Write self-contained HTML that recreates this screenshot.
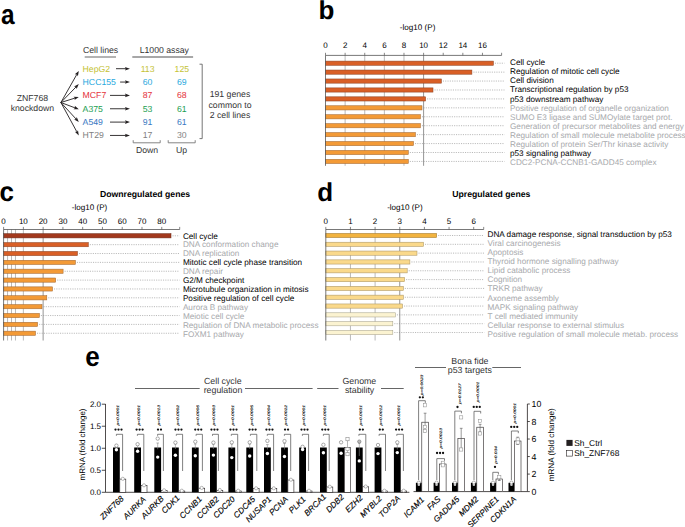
<!DOCTYPE html>
<html><head><meta charset="utf-8"><title>Figure</title>
<style>
html,body{margin:0;padding:0;background:#fff;width:685px;height:527px;overflow:hidden}
svg{display:block}
text{font-family:"Liberation Sans",sans-serif;text-rendering:geometricPrecision}
</style></head><body>
<svg width="685" height="527" viewBox="0 0 685 527">
<text x="0.00" y="0.00" font-size="26" font-weight="bold" transform="translate(1.1 23.8) scale(0.94 1.07)">a</text>
<text x="82.90" y="53.10" font-size="8.7" fill="#333">Cell lines</text>
<line x1="84.70" y1="57.00" x2="116.00" y2="57.00" stroke="#8a8a8a" stroke-width="1.3"/>
<text x="139.70" y="53.10" font-size="8.7" fill="#333">L1000 assay</text>
<line x1="132.30" y1="57.00" x2="193.10" y2="57.00" stroke="#8a8a8a" stroke-width="1.3"/>
<text x="82.60" y="71.70" font-size="8.7" fill="#c4c235">HepG2</text>
<text x="147.60" y="71.70" font-size="8.7" text-anchor="middle" fill="#c4c235">113</text>
<text x="181.80" y="71.70" font-size="8.7" text-anchor="middle" fill="#c4c235">125</text>
<line x1="116.00" y1="68.70" x2="126.00" y2="68.70" stroke="#231f20" stroke-width="0.9"/>
<path d="M130.0,68.70 L124.9,66.90 L125.9,68.70 L124.9,70.50 Z" stroke="none" fill="#231f20" stroke-width="0.8"/>
<line x1="60.90" y1="102.50" x2="76.83" y2="74.38" stroke="#231f20" stroke-width="0.9"/>
<path d="M78.80,70.90 L77.90,76.14 L76.83,74.38 L74.77,74.36 Z" stroke="none" fill="#231f20" stroke-width="0.8"/>
<text x="82.60" y="85.05" font-size="8.7" fill="#28a8de">HCC155</text>
<text x="147.60" y="85.05" font-size="8.7" text-anchor="middle" fill="#28a8de">60</text>
<text x="181.80" y="85.05" font-size="8.7" text-anchor="middle" fill="#28a8de">69</text>
<line x1="120.10" y1="82.05" x2="126.00" y2="82.05" stroke="#231f20" stroke-width="0.9"/>
<path d="M130.0,82.05 L124.9,80.25 L125.9,82.05 L124.9,83.85 Z" stroke="none" fill="#231f20" stroke-width="0.8"/>
<line x1="60.90" y1="102.50" x2="76.01" y2="86.97" stroke="#231f20" stroke-width="0.9"/>
<path d="M78.80,84.10 L76.60,88.94 L76.01,86.97 L74.02,86.43 Z" stroke="none" fill="#231f20" stroke-width="0.8"/>
<text x="82.60" y="98.40" font-size="8.7" fill="#e4323b">MCF7</text>
<text x="147.60" y="98.40" font-size="8.7" text-anchor="middle" fill="#e4323b">87</text>
<text x="181.80" y="98.40" font-size="8.7" text-anchor="middle" fill="#e4323b">68</text>
<line x1="110.00" y1="95.40" x2="126.00" y2="95.40" stroke="#231f20" stroke-width="0.9"/>
<path d="M130.0,95.40 L124.9,93.60 L125.9,95.40 L124.9,97.20 Z" stroke="none" fill="#231f20" stroke-width="0.8"/>
<line x1="60.90" y1="102.50" x2="74.98" y2="98.09" stroke="#231f20" stroke-width="0.9"/>
<path d="M78.80,96.90 L74.57,100.11 L74.98,98.09 L73.49,96.67 Z" stroke="none" fill="#231f20" stroke-width="0.8"/>
<text x="82.60" y="111.75" font-size="8.7" fill="#1a9e50">A375</text>
<text x="147.60" y="111.75" font-size="8.7" text-anchor="middle" fill="#1a9e50">53</text>
<text x="181.80" y="111.75" font-size="8.7" text-anchor="middle" fill="#1a9e50">61</text>
<line x1="110.00" y1="108.75" x2="126.00" y2="108.75" stroke="#231f20" stroke-width="0.9"/>
<path d="M130.0,108.75 L124.9,106.95 L125.9,108.75 L124.9,110.55 Z" stroke="none" fill="#231f20" stroke-width="0.8"/>
<line x1="60.90" y1="102.50" x2="75.06" y2="107.88" stroke="#231f20" stroke-width="0.9"/>
<path d="M78.80,109.30 L73.49,109.21 L75.06,107.88 L74.77,105.84 Z" stroke="none" fill="#231f20" stroke-width="0.8"/>
<text x="82.60" y="125.10" font-size="8.7" fill="#3a78c2">A549</text>
<text x="147.60" y="125.10" font-size="8.7" text-anchor="middle" fill="#3a78c2">91</text>
<text x="181.80" y="125.10" font-size="8.7" text-anchor="middle" fill="#3a78c2">61</text>
<line x1="110.00" y1="122.10" x2="126.00" y2="122.10" stroke="#231f20" stroke-width="0.9"/>
<path d="M130.0,122.10 L124.9,120.30 L125.9,122.10 L124.9,123.90 Z" stroke="none" fill="#231f20" stroke-width="0.8"/>
<line x1="60.90" y1="102.50" x2="76.10" y2="119.05" stroke="#231f20" stroke-width="0.9"/>
<path d="M78.80,122.00 L74.09,119.53 L76.10,119.05 L76.74,117.10 Z" stroke="none" fill="#231f20" stroke-width="0.8"/>
<text x="82.60" y="138.45" font-size="8.7" fill="#7f7f7f">HT29</text>
<text x="147.60" y="138.45" font-size="8.7" text-anchor="middle" fill="#7f7f7f">17</text>
<text x="181.80" y="138.45" font-size="8.7" text-anchor="middle" fill="#7f7f7f">30</text>
<line x1="110.00" y1="135.45" x2="126.00" y2="135.45" stroke="#231f20" stroke-width="0.9"/>
<path d="M130.0,135.45 L124.9,133.65 L125.9,135.45 L124.9,137.25 Z" stroke="none" fill="#231f20" stroke-width="0.8"/>
<line x1="60.90" y1="102.50" x2="76.89" y2="131.89" stroke="#231f20" stroke-width="0.9"/>
<path d="M78.80,135.40 L74.83,131.87 L76.89,131.89 L77.99,130.15 Z" stroke="none" fill="#231f20" stroke-width="0.8"/>
<text x="32.40" y="101.00" font-size="8.7" text-anchor="middle" fill="#333">ZNF768</text>
<text x="32.40" y="111.30" font-size="8.7" text-anchor="middle" fill="#333">knockdown</text>
<path d="M199.5,64.2 H202.2 V138.6 H199.5" stroke="#666" fill="none" stroke-width="0.9"/>
<text x="230.00" y="97.40" font-size="8.7" text-anchor="middle" fill="#333">191 genes</text>
<text x="230.00" y="108.00" font-size="8.7" text-anchor="middle" fill="#333">common to</text>
<text x="230.00" y="118.40" font-size="8.7" text-anchor="middle" fill="#333">2 cell lines</text>
<path d="M133.2,140.2 V142.8 H160.2 V140.2" stroke="#777" fill="none" stroke-width="0.9"/>
<path d="M168.2,140.2 V142.8 H195.2 V140.2" stroke="#777" fill="none" stroke-width="0.9"/>
<text x="147.00" y="153.20" font-size="8.7" text-anchor="middle" fill="#333">Down</text>
<text x="181.60" y="153.20" font-size="8.7" text-anchor="middle" fill="#333">Up</text>
<text x="318.60" y="18.70" font-size="26" font-weight="bold">b</text>
<text x="417.60" y="30.10" font-size="8.1" text-anchor="middle">-log10 (P)</text>
<text x="325.50" y="48.40" font-size="8.0" text-anchor="middle">0</text>
<text x="345.12" y="48.40" font-size="8.0" text-anchor="middle">2</text>
<text x="364.74" y="48.40" font-size="8.0" text-anchor="middle">4</text>
<text x="384.36" y="48.40" font-size="8.0" text-anchor="middle">6</text>
<text x="403.98" y="48.40" font-size="8.0" text-anchor="middle">8</text>
<text x="423.60" y="48.40" font-size="8.0" text-anchor="middle">10</text>
<text x="443.22" y="48.40" font-size="8.0" text-anchor="middle">12</text>
<text x="462.84" y="48.40" font-size="8.0" text-anchor="middle">14</text>
<text x="482.46" y="48.40" font-size="8.0" text-anchor="middle">16</text>
<line x1="345.12" y1="55.40" x2="345.12" y2="165.80" stroke="#9c9c9c" stroke-width="0.7"/>
<line x1="364.74" y1="55.40" x2="364.74" y2="165.80" stroke="#9c9c9c" stroke-width="0.7"/>
<line x1="384.36" y1="55.40" x2="384.36" y2="165.80" stroke="#9c9c9c" stroke-width="0.7"/>
<line x1="403.98" y1="55.40" x2="403.98" y2="165.80" stroke="#9c9c9c" stroke-width="0.7"/>
<line x1="423.60" y1="55.40" x2="423.60" y2="165.80" stroke="#7a7a7a" stroke-width="0.8"/>
<rect x="325.50" y="61.10" width="167.90" height="4.20" fill="#d95f26" stroke="#8f4526" stroke-width="0.55"/>
<line x1="494.90" y1="63.20" x2="504.50" y2="63.20" stroke="#8a8a8a" stroke-width="0.6" stroke-dasharray="1.1,1.2"/>
<text x="510.00" y="65.10" font-size="8.2">Cell cycle</text>
<rect x="325.50" y="70.03" width="146.40" height="4.20" fill="#d95f26" stroke="#8f4526" stroke-width="0.55"/>
<line x1="473.40" y1="72.13" x2="504.50" y2="72.13" stroke="#8a8a8a" stroke-width="0.6" stroke-dasharray="1.1,1.2"/>
<text x="510.00" y="74.20" font-size="8.2">Regulation of mitotic cell cycle</text>
<rect x="325.50" y="78.96" width="115.90" height="4.20" fill="#d95f26" stroke="#8f4526" stroke-width="0.55"/>
<line x1="442.90" y1="81.06" x2="504.50" y2="81.06" stroke="#8a8a8a" stroke-width="0.6" stroke-dasharray="1.1,1.2"/>
<text x="510.00" y="83.30" font-size="8.2">Cell division</text>
<rect x="325.50" y="87.89" width="107.50" height="4.20" fill="#d95f26" stroke="#8f4526" stroke-width="0.55"/>
<line x1="434.50" y1="89.99" x2="504.50" y2="89.99" stroke="#8a8a8a" stroke-width="0.6" stroke-dasharray="1.1,1.2"/>
<text x="510.00" y="92.40" font-size="8.2">Transcriptional regulation by p53</text>
<rect x="325.50" y="96.82" width="100.10" height="4.20" fill="#d95f26" stroke="#8f4526" stroke-width="0.55"/>
<line x1="427.10" y1="98.92" x2="504.50" y2="98.92" stroke="#8a8a8a" stroke-width="0.6" stroke-dasharray="1.1,1.2"/>
<text x="510.00" y="101.50" font-size="8.2">p53 downstream pathway</text>
<rect x="325.50" y="105.75" width="96.50" height="4.20" fill="#f39a36" stroke="#a56a33" stroke-width="0.55"/>
<line x1="423.50" y1="107.85" x2="504.50" y2="107.85" stroke="#8a8a8a" stroke-width="0.6" stroke-dasharray="1.1,1.2"/>
<text x="510.00" y="110.60" font-size="8.2" fill="#a7a9ac">Positive regulation of organelle organization</text>
<rect x="325.50" y="114.68" width="94.90" height="4.20" fill="#f39a36" stroke="#a56a33" stroke-width="0.55"/>
<line x1="421.90" y1="116.78" x2="504.50" y2="116.78" stroke="#8a8a8a" stroke-width="0.6" stroke-dasharray="1.1,1.2"/>
<text x="510.00" y="119.70" font-size="8.2" fill="#a7a9ac">SUMO E3 ligase and SUMOylate target prot.</text>
<rect x="325.50" y="123.61" width="94.90" height="4.20" fill="#f39a36" stroke="#a56a33" stroke-width="0.55"/>
<line x1="421.90" y1="125.71" x2="504.50" y2="125.71" stroke="#8a8a8a" stroke-width="0.6" stroke-dasharray="1.1,1.2"/>
<text x="510.00" y="128.80" font-size="8.2" fill="#a7a9ac">Generation of precursor metabolites and energy</text>
<rect x="325.50" y="132.54" width="89.90" height="4.20" fill="#f39a36" stroke="#a56a33" stroke-width="0.55"/>
<line x1="416.90" y1="134.64" x2="504.50" y2="134.64" stroke="#8a8a8a" stroke-width="0.6" stroke-dasharray="1.1,1.2"/>
<text x="510.00" y="137.90" font-size="8.2" fill="#a7a9ac">Regulation of small molecule metabolite process</text>
<rect x="325.50" y="141.47" width="88.00" height="4.20" fill="#f39a36" stroke="#a56a33" stroke-width="0.55"/>
<line x1="415.00" y1="143.57" x2="504.50" y2="143.57" stroke="#8a8a8a" stroke-width="0.6" stroke-dasharray="1.1,1.2"/>
<text x="510.00" y="147.00" font-size="8.2" fill="#a7a9ac">Regulation of protein Ser/Thr kinase activity</text>
<rect x="325.50" y="150.40" width="82.80" height="4.20" fill="#f39a36" stroke="#a56a33" stroke-width="0.55"/>
<line x1="409.80" y1="152.50" x2="504.50" y2="152.50" stroke="#8a8a8a" stroke-width="0.6" stroke-dasharray="1.1,1.2"/>
<text x="510.00" y="156.10" font-size="8.2">p53 signaling pathway</text>
<rect x="325.50" y="159.33" width="82.80" height="4.20" fill="#f39a36" stroke="#a56a33" stroke-width="0.55"/>
<line x1="409.80" y1="161.43" x2="504.50" y2="161.43" stroke="#8a8a8a" stroke-width="0.6" stroke-dasharray="1.1,1.2"/>
<text x="510.00" y="165.20" font-size="8.2" fill="#a7a9ac">CDC2-PCNA-CCNB1-GADD45 complex</text>
<line x1="325.50" y1="55.40" x2="501.60" y2="55.40" stroke="#555" stroke-width="0.8"/>
<line x1="325.50" y1="55.40" x2="325.50" y2="165.80" stroke="#555" stroke-width="0.8"/>
<line x1="325.50" y1="52.80" x2="325.50" y2="55.40" stroke="#555" stroke-width="0.7"/>
<line x1="345.12" y1="52.80" x2="345.12" y2="55.40" stroke="#555" stroke-width="0.7"/>
<line x1="364.74" y1="52.80" x2="364.74" y2="55.40" stroke="#555" stroke-width="0.7"/>
<line x1="384.36" y1="52.80" x2="384.36" y2="55.40" stroke="#555" stroke-width="0.7"/>
<line x1="403.98" y1="52.80" x2="403.98" y2="55.40" stroke="#555" stroke-width="0.7"/>
<line x1="423.60" y1="52.80" x2="423.60" y2="55.40" stroke="#555" stroke-width="0.7"/>
<line x1="443.22" y1="52.80" x2="443.22" y2="55.40" stroke="#555" stroke-width="0.7"/>
<line x1="462.84" y1="52.80" x2="462.84" y2="55.40" stroke="#555" stroke-width="0.7"/>
<line x1="482.46" y1="52.80" x2="482.46" y2="55.40" stroke="#555" stroke-width="0.7"/>
<line x1="501.60" y1="52.80" x2="501.60" y2="55.40" stroke="#555" stroke-width="0.7"/>
<text x="0.00" y="0.00" font-size="26" font-weight="bold" transform="translate(-0.5 200.6) scale(1 1.05)">c</text>
<text x="99.90" y="196.80" font-size="8.7" font-weight="bold">Downregulated genes</text>
<text x="89.50" y="210.20" font-size="8.1" text-anchor="middle">-log10 (P)</text>
<text x="3.60" y="223.50" font-size="8.0" text-anchor="middle">0</text>
<text x="23.37" y="223.50" font-size="8.0" text-anchor="middle">10</text>
<text x="43.14" y="223.50" font-size="8.0" text-anchor="middle">20</text>
<text x="62.91" y="223.50" font-size="8.0" text-anchor="middle">30</text>
<text x="82.68" y="223.50" font-size="8.0" text-anchor="middle">40</text>
<text x="102.45" y="223.50" font-size="8.0" text-anchor="middle">50</text>
<text x="122.22" y="223.50" font-size="8.0" text-anchor="middle">60</text>
<text x="141.99" y="223.50" font-size="8.0" text-anchor="middle">70</text>
<text x="161.76" y="223.50" font-size="8.0" text-anchor="middle">80</text>
<line x1="7.55" y1="229.50" x2="7.55" y2="340.50" stroke="#9c9c9c" stroke-width="0.7"/>
<line x1="11.51" y1="229.50" x2="11.51" y2="340.50" stroke="#9c9c9c" stroke-width="0.7"/>
<line x1="15.46" y1="229.50" x2="15.46" y2="340.50" stroke="#9c9c9c" stroke-width="0.7"/>
<line x1="23.37" y1="229.50" x2="23.37" y2="340.50" stroke="#9c9c9c" stroke-width="0.7"/>
<line x1="43.14" y1="229.50" x2="43.14" y2="340.50" stroke="#7a7a7a" stroke-width="0.8"/>
<rect x="3.60" y="233.70" width="167.40" height="4.20" fill="#a2391d" stroke="#6d2a18" stroke-width="0.55"/>
<line x1="172.50" y1="235.80" x2="179.50" y2="235.80" stroke="#8a8a8a" stroke-width="0.6" stroke-dasharray="1.1,1.2"/>
<text x="182.90" y="238.50" font-size="8.2">Cell cycle</text>
<rect x="3.60" y="242.56" width="84.70" height="4.20" fill="#d95f26" stroke="#8f4526" stroke-width="0.55"/>
<line x1="89.80" y1="244.66" x2="179.50" y2="244.66" stroke="#8a8a8a" stroke-width="0.6" stroke-dasharray="1.1,1.2"/>
<text x="182.90" y="247.45" font-size="8.2" fill="#a7a9ac">DNA conformation change</text>
<rect x="3.60" y="251.42" width="73.90" height="4.20" fill="#d95f26" stroke="#8f4526" stroke-width="0.55"/>
<line x1="79.00" y1="253.52" x2="179.50" y2="253.52" stroke="#8a8a8a" stroke-width="0.6" stroke-dasharray="1.1,1.2"/>
<text x="182.90" y="256.40" font-size="8.2" fill="#a7a9ac">DNA replication</text>
<rect x="3.60" y="260.28" width="71.80" height="4.20" fill="#f39a36" stroke="#a56a33" stroke-width="0.55"/>
<line x1="76.90" y1="262.38" x2="179.50" y2="262.38" stroke="#8a8a8a" stroke-width="0.6" stroke-dasharray="1.1,1.2"/>
<text x="182.90" y="265.35" font-size="8.2">Mitotic cell cycle phase transition</text>
<rect x="3.60" y="269.14" width="59.50" height="4.20" fill="#f39a36" stroke="#a56a33" stroke-width="0.55"/>
<line x1="64.60" y1="271.24" x2="179.50" y2="271.24" stroke="#8a8a8a" stroke-width="0.6" stroke-dasharray="1.1,1.2"/>
<text x="182.90" y="274.30" font-size="8.2" fill="#a7a9ac">DNA repair</text>
<rect x="3.60" y="278.00" width="52.10" height="4.20" fill="#f39a36" stroke="#a56a33" stroke-width="0.55"/>
<line x1="57.20" y1="280.10" x2="179.50" y2="280.10" stroke="#8a8a8a" stroke-width="0.6" stroke-dasharray="1.1,1.2"/>
<text x="182.90" y="283.25" font-size="8.2">G2/M checkpoint</text>
<rect x="3.60" y="286.86" width="48.90" height="4.20" fill="#f39a36" stroke="#a56a33" stroke-width="0.55"/>
<line x1="54.00" y1="288.96" x2="179.50" y2="288.96" stroke="#8a8a8a" stroke-width="0.6" stroke-dasharray="1.1,1.2"/>
<text x="182.90" y="292.20" font-size="8.2">Microtubule organization in mitosis</text>
<rect x="3.60" y="295.72" width="43.20" height="4.20" fill="#f39a36" stroke="#a56a33" stroke-width="0.55"/>
<line x1="48.30" y1="297.82" x2="179.50" y2="297.82" stroke="#8a8a8a" stroke-width="0.6" stroke-dasharray="1.1,1.2"/>
<text x="182.90" y="301.15" font-size="8.2">Positive regulation of cell cycle</text>
<rect x="3.60" y="304.58" width="38.40" height="4.20" fill="#f39a36" stroke="#a56a33" stroke-width="0.55"/>
<line x1="43.50" y1="306.68" x2="179.50" y2="306.68" stroke="#8a8a8a" stroke-width="0.6" stroke-dasharray="1.1,1.2"/>
<text x="182.90" y="310.10" font-size="8.2" fill="#a7a9ac">Aurora B pathway</text>
<rect x="3.60" y="313.44" width="35.80" height="4.20" fill="#f39a36" stroke="#a56a33" stroke-width="0.55"/>
<line x1="40.90" y1="315.54" x2="179.50" y2="315.54" stroke="#8a8a8a" stroke-width="0.6" stroke-dasharray="1.1,1.2"/>
<text x="182.90" y="319.05" font-size="8.2" fill="#a7a9ac">Meiotic cell cycle</text>
<rect x="3.60" y="322.30" width="34.00" height="4.20" fill="#f39a36" stroke="#a56a33" stroke-width="0.55"/>
<line x1="39.10" y1="324.40" x2="179.50" y2="324.40" stroke="#8a8a8a" stroke-width="0.6" stroke-dasharray="1.1,1.2"/>
<text x="182.90" y="328.00" font-size="8.2" fill="#a7a9ac">Regulation of DNA metabolic process</text>
<rect x="3.60" y="331.16" width="31.90" height="4.20" fill="#f39a36" stroke="#a56a33" stroke-width="0.55"/>
<line x1="37.00" y1="333.26" x2="179.50" y2="333.26" stroke="#8a8a8a" stroke-width="0.6" stroke-dasharray="1.1,1.2"/>
<text x="182.90" y="336.95" font-size="8.2" fill="#a7a9ac">FOXM1 pathway</text>
<line x1="3.60" y1="229.50" x2="179.70" y2="229.50" stroke="#555" stroke-width="0.8"/>
<line x1="3.60" y1="229.50" x2="3.60" y2="340.50" stroke="#555" stroke-width="0.8"/>
<line x1="3.60" y1="226.90" x2="3.60" y2="229.50" stroke="#555" stroke-width="0.7"/>
<line x1="23.37" y1="226.90" x2="23.37" y2="229.50" stroke="#555" stroke-width="0.7"/>
<line x1="43.14" y1="226.90" x2="43.14" y2="229.50" stroke="#555" stroke-width="0.7"/>
<line x1="62.91" y1="226.90" x2="62.91" y2="229.50" stroke="#555" stroke-width="0.7"/>
<line x1="82.68" y1="226.90" x2="82.68" y2="229.50" stroke="#555" stroke-width="0.7"/>
<line x1="102.45" y1="226.90" x2="102.45" y2="229.50" stroke="#555" stroke-width="0.7"/>
<line x1="122.22" y1="226.90" x2="122.22" y2="229.50" stroke="#555" stroke-width="0.7"/>
<line x1="141.99" y1="226.90" x2="141.99" y2="229.50" stroke="#555" stroke-width="0.7"/>
<line x1="161.76" y1="226.90" x2="161.76" y2="229.50" stroke="#555" stroke-width="0.7"/>
<line x1="179.70" y1="226.90" x2="179.70" y2="229.50" stroke="#555" stroke-width="0.7"/>
<text x="317.30" y="200.50" font-size="26" font-weight="bold">d</text>
<text x="452.20" y="196.80" font-size="8.7" font-weight="bold">Upregulated genes</text>
<text x="404.90" y="210.20" font-size="8.1" text-anchor="middle">-log10 (P)</text>
<text x="325.80" y="223.50" font-size="8.0" text-anchor="middle">0</text>
<text x="350.45" y="223.50" font-size="8.0" text-anchor="middle">1</text>
<text x="375.10" y="223.50" font-size="8.0" text-anchor="middle">2</text>
<text x="399.75" y="223.50" font-size="8.0" text-anchor="middle">3</text>
<text x="424.40" y="223.50" font-size="8.0" text-anchor="middle">4</text>
<text x="449.05" y="223.50" font-size="8.0" text-anchor="middle">5</text>
<text x="473.70" y="223.50" font-size="8.0" text-anchor="middle">6</text>
<line x1="350.45" y1="229.50" x2="350.45" y2="340.50" stroke="#9c9c9c" stroke-width="0.7"/>
<line x1="375.10" y1="229.50" x2="375.10" y2="340.50" stroke="#9c9c9c" stroke-width="0.7"/>
<line x1="399.75" y1="229.50" x2="399.75" y2="340.50" stroke="#7a7a7a" stroke-width="0.8"/>
<rect x="325.80" y="233.40" width="110.90" height="4.20" fill="#f2b33f" stroke="#a07a35" stroke-width="0.55"/>
<line x1="438.20" y1="235.50" x2="484.20" y2="235.50" stroke="#8a8a8a" stroke-width="0.6" stroke-dasharray="1.1,1.2"/>
<text x="487.50" y="237.10" font-size="8.2">DNA damage response, signal transduction by p53</text>
<rect x="325.80" y="242.22" width="97.70" height="4.20" fill="#fad98b" stroke="#ab9462" stroke-width="0.55"/>
<line x1="425.00" y1="244.32" x2="484.20" y2="244.32" stroke="#8a8a8a" stroke-width="0.6" stroke-dasharray="1.1,1.2"/>
<text x="487.50" y="246.16" font-size="8.2" fill="#a7a9ac">Viral carcinogenesis</text>
<rect x="325.80" y="251.04" width="91.20" height="4.20" fill="#fad98b" stroke="#ab9462" stroke-width="0.55"/>
<line x1="418.50" y1="253.14" x2="484.20" y2="253.14" stroke="#8a8a8a" stroke-width="0.6" stroke-dasharray="1.1,1.2"/>
<text x="487.50" y="255.22" font-size="8.2" fill="#a7a9ac">Apoptosis</text>
<rect x="325.80" y="259.86" width="84.10" height="4.20" fill="#fad98b" stroke="#ab9462" stroke-width="0.55"/>
<line x1="411.40" y1="261.96" x2="484.20" y2="261.96" stroke="#8a8a8a" stroke-width="0.6" stroke-dasharray="1.1,1.2"/>
<text x="487.50" y="264.28" font-size="8.2" fill="#a7a9ac">Thyroid hormone signalling pathway</text>
<rect x="325.80" y="268.68" width="81.40" height="4.20" fill="#fad98b" stroke="#ab9462" stroke-width="0.55"/>
<line x1="408.70" y1="270.78" x2="484.20" y2="270.78" stroke="#8a8a8a" stroke-width="0.6" stroke-dasharray="1.1,1.2"/>
<text x="487.50" y="273.34" font-size="8.2" fill="#a7a9ac">Lipid catabolic process</text>
<rect x="325.80" y="277.50" width="78.80" height="4.20" fill="#fad98b" stroke="#ab9462" stroke-width="0.55"/>
<line x1="406.10" y1="279.60" x2="484.20" y2="279.60" stroke="#8a8a8a" stroke-width="0.6" stroke-dasharray="1.1,1.2"/>
<text x="487.50" y="282.40" font-size="8.2" fill="#a7a9ac">Cognition</text>
<rect x="325.80" y="286.32" width="77.50" height="4.20" fill="#fad98b" stroke="#ab9462" stroke-width="0.55"/>
<line x1="404.80" y1="288.42" x2="484.20" y2="288.42" stroke="#8a8a8a" stroke-width="0.6" stroke-dasharray="1.1,1.2"/>
<text x="487.50" y="291.46" font-size="8.2" fill="#a7a9ac">TRKR pathway</text>
<rect x="325.80" y="295.14" width="77.50" height="4.20" fill="#fad98b" stroke="#ab9462" stroke-width="0.55"/>
<line x1="404.80" y1="297.24" x2="484.20" y2="297.24" stroke="#8a8a8a" stroke-width="0.6" stroke-dasharray="1.1,1.2"/>
<text x="487.50" y="300.52" font-size="8.2" fill="#a7a9ac">Axoneme assembly</text>
<rect x="325.80" y="303.96" width="76.70" height="4.20" fill="#fad98b" stroke="#ab9462" stroke-width="0.55"/>
<line x1="404.00" y1="306.06" x2="484.20" y2="306.06" stroke="#8a8a8a" stroke-width="0.6" stroke-dasharray="1.1,1.2"/>
<text x="487.50" y="309.58" font-size="8.2" fill="#a7a9ac">MAPK signaling pathway</text>
<rect x="325.80" y="312.78" width="69.60" height="4.20" fill="#fbf3d1" stroke="#a9a48d" stroke-width="0.55"/>
<line x1="396.90" y1="314.88" x2="484.20" y2="314.88" stroke="#8a8a8a" stroke-width="0.6" stroke-dasharray="1.1,1.2"/>
<text x="487.50" y="318.64" font-size="8.2" fill="#a7a9ac">T cell mediated immunity</text>
<rect x="325.80" y="321.60" width="67.00" height="4.20" fill="#fbf3d1" stroke="#a9a48d" stroke-width="0.55"/>
<line x1="394.30" y1="323.70" x2="484.20" y2="323.70" stroke="#8a8a8a" stroke-width="0.6" stroke-dasharray="1.1,1.2"/>
<text x="487.50" y="327.70" font-size="8.2" fill="#a7a9ac">Cellular response to external stimulus</text>
<rect x="325.80" y="330.42" width="67.00" height="4.20" fill="#fbf3d1" stroke="#a9a48d" stroke-width="0.55"/>
<line x1="394.30" y1="332.52" x2="484.20" y2="332.52" stroke="#8a8a8a" stroke-width="0.6" stroke-dasharray="1.1,1.2"/>
<text x="487.50" y="336.76" font-size="8.2" fill="#a7a9ac">Positive regulation of small molecule metab. process</text>
<line x1="325.80" y1="229.50" x2="483.70" y2="229.50" stroke="#555" stroke-width="0.8"/>
<line x1="325.80" y1="229.50" x2="325.80" y2="340.50" stroke="#555" stroke-width="0.8"/>
<line x1="325.80" y1="226.90" x2="325.80" y2="229.50" stroke="#555" stroke-width="0.7"/>
<line x1="350.45" y1="226.90" x2="350.45" y2="229.50" stroke="#555" stroke-width="0.7"/>
<line x1="375.10" y1="226.90" x2="375.10" y2="229.50" stroke="#555" stroke-width="0.7"/>
<line x1="399.75" y1="226.90" x2="399.75" y2="229.50" stroke="#555" stroke-width="0.7"/>
<line x1="424.40" y1="226.90" x2="424.40" y2="229.50" stroke="#555" stroke-width="0.7"/>
<line x1="449.05" y1="226.90" x2="449.05" y2="229.50" stroke="#555" stroke-width="0.7"/>
<line x1="473.70" y1="226.90" x2="473.70" y2="229.50" stroke="#555" stroke-width="0.7"/>
<line x1="483.70" y1="226.90" x2="483.70" y2="229.50" stroke="#555" stroke-width="0.7"/>
<text x="0.00" y="0.00" font-size="26" font-weight="bold" transform="translate(85.3 365.6) scale(1 1.08)">e</text>
<text x="222.80" y="384.30" font-size="8.8" text-anchor="middle" fill="#333">Cell cycle</text>
<text x="223.00" y="392.70" font-size="8.8" text-anchor="middle" fill="#333">regulation</text>
<line x1="135.00" y1="388.50" x2="199.70" y2="388.50" stroke="#666" stroke-width="1.0"/>
<line x1="245.00" y1="388.50" x2="312.60" y2="388.50" stroke="#666" stroke-width="1.0"/>
<text x="359.40" y="384.00" font-size="8.8" text-anchor="middle" fill="#333">Genome</text>
<text x="359.60" y="392.80" font-size="8.8" text-anchor="middle" fill="#333">stability</text>
<line x1="317.20" y1="388.50" x2="338.50" y2="388.50" stroke="#666" stroke-width="1.0"/>
<line x1="381.00" y1="388.50" x2="403.70" y2="388.50" stroke="#666" stroke-width="1.0"/>
<text x="469.90" y="364.40" font-size="8.8" text-anchor="middle" fill="#333">Bona fide</text>
<text x="469.80" y="372.80" font-size="8.8" text-anchor="middle" fill="#333">p53 targets</text>
<line x1="415.00" y1="367.50" x2="446.00" y2="367.50" stroke="#666" stroke-width="1.0"/>
<line x1="492.30" y1="367.50" x2="521.00" y2="367.50" stroke="#666" stroke-width="1.0"/>
<line x1="105.50" y1="404.00" x2="105.50" y2="492.30" stroke="#231f20" stroke-width="0.8"/>
<line x1="101.80" y1="492.30" x2="105.50" y2="492.30" stroke="#231f20" stroke-width="0.8"/>
<text x="101.00" y="495.20" font-size="8" text-anchor="end">0.0</text>
<line x1="101.80" y1="470.28" x2="105.50" y2="470.28" stroke="#231f20" stroke-width="0.8"/>
<text x="101.00" y="473.18" font-size="8" text-anchor="end">0.5</text>
<line x1="101.80" y1="448.25" x2="105.50" y2="448.25" stroke="#231f20" stroke-width="0.8"/>
<text x="101.00" y="451.15" font-size="8" text-anchor="end">1.0</text>
<line x1="101.80" y1="426.23" x2="105.50" y2="426.23" stroke="#231f20" stroke-width="0.8"/>
<text x="101.00" y="429.12" font-size="8" text-anchor="end">1.5</text>
<line x1="101.80" y1="404.20" x2="105.50" y2="404.20" stroke="#231f20" stroke-width="0.8"/>
<text x="101.00" y="407.10" font-size="8" text-anchor="end">2.0</text>
<text x="84.80" y="444.50" font-size="8" text-anchor="middle" transform="rotate(-90 84.8 444.5)">mRNA (fold change)</text>
<line x1="105.50" y1="492.30" x2="409.40" y2="492.30" stroke="#231f20" stroke-width="0.8"/>
<line x1="527.40" y1="404.00" x2="527.40" y2="491.60" stroke="#231f20" stroke-width="0.8"/>
<line x1="527.40" y1="491.60" x2="529.80" y2="491.60" stroke="#231f20" stroke-width="0.8"/>
<text x="531.60" y="494.70" font-size="8.8">0</text>
<line x1="527.40" y1="474.08" x2="529.80" y2="474.08" stroke="#231f20" stroke-width="0.8"/>
<text x="531.60" y="477.18" font-size="8.8">2</text>
<line x1="527.40" y1="456.56" x2="529.80" y2="456.56" stroke="#231f20" stroke-width="0.8"/>
<text x="531.60" y="459.66" font-size="8.8">4</text>
<line x1="527.40" y1="439.04" x2="529.80" y2="439.04" stroke="#231f20" stroke-width="0.8"/>
<text x="531.60" y="442.14" font-size="8.8">6</text>
<line x1="527.40" y1="421.52" x2="529.80" y2="421.52" stroke="#231f20" stroke-width="0.8"/>
<text x="531.60" y="424.62" font-size="8.8">8</text>
<line x1="527.40" y1="404.00" x2="529.80" y2="404.00" stroke="#231f20" stroke-width="0.8"/>
<text x="531.60" y="407.10" font-size="8.8">10</text>
<text x="554.00" y="444.80" font-size="8.1" text-anchor="middle" transform="rotate(-90 554.0 444.8)">mRNA (fold change)</text>
<line x1="413.50" y1="491.60" x2="527.40" y2="491.60" stroke="#231f20" stroke-width="0.8"/>
<rect x="566.40" y="439.90" width="6.20" height="6.00" fill="#231f20"/>
<text x="574.20" y="446.00" font-size="8.4">Sh_Ctrl</text>
<rect x="566.60" y="450.50" width="5.90" height="5.60" fill="#fff" stroke="#231f20" stroke-width="0.6"/>
<text x="574.20" y="456.00" font-size="8.4">Sh_ZNF768</text>
<rect x="113.00" y="447.50" width="6.80" height="44.80" fill="#000"/>
<rect x="119.80" y="479.10" width="6.00" height="13.20" fill="#fff" stroke="#231f20" stroke-width="0.6"/>
<circle cx="116.40" cy="445.60" r="1.7" fill="#fff" stroke="#666" stroke-width="0.55"/>
<circle cx="116.40" cy="449.80" r="1.7" fill="#fff"/>
<circle cx="122.80" cy="478.80" r="1.6" fill="#fff" stroke="#777" stroke-width="0.5"/>
<path d="M116.40,435.8 V434.3 H122.60 V471.0" stroke="#555" fill="none" stroke-width="0.75"/>
<circle cx="115.50" cy="429.60" r="1.15" fill="#111"/>
<circle cx="118.50" cy="429.60" r="1.15" fill="#111"/>
<circle cx="121.50" cy="429.60" r="1.15" fill="#111"/>
<g transform="translate(119.20,425.6) rotate(-90) scale(1,0.72)"><text x="0" y="0" font-size="4.9" font-style="italic" fill="#000" stroke="#000" stroke-width="0.12">p&lt;0.0001</text></g>
<text x="124.20" y="499.20" font-size="8.2" text-anchor="end" fill="#000" font-style="italic" transform="rotate(-45 124.20 499.20)" stroke="#000" stroke-width="0.15">ZNF768</text>
<rect x="134.20" y="447.50" width="6.80" height="44.80" fill="#000"/>
<rect x="141.00" y="485.60" width="6.00" height="6.70" fill="#fff" stroke="#231f20" stroke-width="0.6"/>
<line x1="137.60" y1="445.50" x2="137.60" y2="449.50" stroke="#888" stroke-width="0.6"/>
<line x1="136.30" y1="445.50" x2="138.90" y2="445.50" stroke="#888" stroke-width="0.6"/>
<circle cx="137.60" cy="444.20" r="1.7" fill="#fff" stroke="#666" stroke-width="0.55"/>
<circle cx="137.60" cy="451.20" r="1.7" fill="#fff"/>
<circle cx="144.00" cy="485.30" r="1.6" fill="#fff" stroke="#777" stroke-width="0.5"/>
<path d="M137.40,435.8 V434.3 H143.80 V471.0" stroke="#555" fill="none" stroke-width="0.75"/>
<circle cx="136.60" cy="429.60" r="1.15" fill="#111"/>
<circle cx="139.60" cy="429.60" r="1.15" fill="#111"/>
<circle cx="142.60" cy="429.60" r="1.15" fill="#111"/>
<g transform="translate(140.30,425.6) rotate(-90) scale(1,0.72)"><text x="0" y="0" font-size="4.9" font-style="italic" fill="#000" stroke="#000" stroke-width="0.12">p&lt;0.0001</text></g>
<text x="146.50" y="499.90" font-size="8.2" text-anchor="end" fill="#000" font-style="italic" transform="rotate(-45 146.50 499.90)" stroke="#000" stroke-width="0.15">AURKA</text>
<rect x="154.30" y="447.50" width="6.80" height="44.80" fill="#000"/>
<rect x="161.10" y="490.60" width="6.00" height="1.70" fill="#fff" stroke="#231f20" stroke-width="0.6"/>
<line x1="157.70" y1="443.00" x2="157.70" y2="449.30" stroke="#888" stroke-width="0.6"/>
<line x1="156.40" y1="443.00" x2="159.00" y2="443.00" stroke="#888" stroke-width="0.6"/>
<circle cx="157.70" cy="438.60" r="1.7" fill="#fff" stroke="#666" stroke-width="0.55"/>
<circle cx="157.70" cy="457.10" r="1.7" fill="#fff"/>
<circle cx="164.10" cy="490.30" r="1.6" fill="#fff" stroke="#777" stroke-width="0.5"/>
<path d="M157.60,435.8 V434.3 H163.40 V471.0" stroke="#555" fill="none" stroke-width="0.75"/>
<circle cx="158.00" cy="429.60" r="1.15" fill="#111"/>
<circle cx="161.00" cy="429.60" r="1.15" fill="#111"/>
<g transform="translate(160.20,425.6) rotate(-90) scale(1,0.72)"><text x="0" y="0" font-size="4.9" font-style="italic" fill="#000" stroke="#000" stroke-width="0.12">p=0.0013</text></g>
<text x="164.50" y="499.20" font-size="8.2" text-anchor="end" fill="#000" font-style="italic" transform="rotate(-45 164.50 499.20)" stroke="#000" stroke-width="0.15">AURKB</text>
<rect x="172.00" y="447.50" width="6.80" height="44.80" fill="#000"/>
<rect x="178.80" y="491.00" width="6.00" height="1.30" fill="#fff" stroke="#231f20" stroke-width="0.6"/>
<line x1="175.40" y1="443.80" x2="175.40" y2="449.00" stroke="#888" stroke-width="0.6"/>
<line x1="174.10" y1="443.80" x2="176.70" y2="443.80" stroke="#888" stroke-width="0.6"/>
<circle cx="175.40" cy="442.60" r="1.7" fill="#fff" stroke="#666" stroke-width="0.55"/>
<circle cx="175.40" cy="455.30" r="1.7" fill="#fff"/>
<circle cx="181.80" cy="490.70" r="1.6" fill="#fff" stroke="#777" stroke-width="0.5"/>
<path d="M176.30,435.8 V434.3 H182.60 V471.0" stroke="#555" fill="none" stroke-width="0.75"/>
<circle cx="175.45" cy="429.60" r="1.15" fill="#111"/>
<circle cx="178.45" cy="429.60" r="1.15" fill="#111"/>
<circle cx="181.45" cy="429.60" r="1.15" fill="#111"/>
<g transform="translate(179.15,425.6) rotate(-90) scale(1,0.72)"><text x="0" y="0" font-size="4.9" font-style="italic" fill="#000" stroke="#000" stroke-width="0.12">p=0.0002</text></g>
<text x="180.30" y="498.50" font-size="8.2" text-anchor="end" fill="#000" font-style="italic" transform="rotate(-45 180.30 498.50)" stroke="#000" stroke-width="0.15">CDK1</text>
<rect x="191.90" y="447.50" width="6.80" height="44.80" fill="#000"/>
<rect x="198.70" y="488.20" width="6.00" height="4.10" fill="#fff" stroke="#231f20" stroke-width="0.6"/>
<line x1="195.30" y1="444.00" x2="195.30" y2="449.00" stroke="#888" stroke-width="0.6"/>
<line x1="194.00" y1="444.00" x2="196.60" y2="444.00" stroke="#888" stroke-width="0.6"/>
<circle cx="195.30" cy="441.70" r="1.7" fill="#fff" stroke="#666" stroke-width="0.55"/>
<circle cx="195.30" cy="455.80" r="1.7" fill="#fff"/>
<circle cx="201.70" cy="487.90" r="1.6" fill="#fff" stroke="#777" stroke-width="0.5"/>
<path d="M196.10,435.8 V434.3 H202.40 V471.0" stroke="#555" fill="none" stroke-width="0.75"/>
<circle cx="195.25" cy="429.60" r="1.15" fill="#111"/>
<circle cx="198.25" cy="429.60" r="1.15" fill="#111"/>
<circle cx="201.25" cy="429.60" r="1.15" fill="#111"/>
<g transform="translate(198.95,425.6) rotate(-90) scale(1,0.72)"><text x="0" y="0" font-size="4.9" font-style="italic" fill="#000" stroke="#000" stroke-width="0.12">p=0.0006</text></g>
<text x="202.50" y="499.60" font-size="8.2" text-anchor="end" fill="#000" font-style="italic" transform="rotate(-45 202.50 499.60)" stroke="#000" stroke-width="0.15">CCNB1</text>
<rect x="210.00" y="447.50" width="6.80" height="44.80" fill="#000"/>
<rect x="216.80" y="490.30" width="6.00" height="2.00" fill="#fff" stroke="#231f20" stroke-width="0.6"/>
<line x1="213.40" y1="444.20" x2="213.40" y2="449.00" stroke="#888" stroke-width="0.6"/>
<line x1="212.10" y1="444.20" x2="214.70" y2="444.20" stroke="#888" stroke-width="0.6"/>
<circle cx="213.40" cy="442.60" r="1.7" fill="#fff" stroke="#666" stroke-width="0.55"/>
<circle cx="213.40" cy="455.10" r="1.7" fill="#fff"/>
<circle cx="219.80" cy="490.00" r="1.6" fill="#fff" stroke="#777" stroke-width="0.5"/>
<path d="M212.50,435.8 V434.3 H218.40 V471.0" stroke="#555" fill="none" stroke-width="0.75"/>
<circle cx="211.45" cy="429.60" r="1.15" fill="#111"/>
<circle cx="214.45" cy="429.60" r="1.15" fill="#111"/>
<circle cx="217.45" cy="429.60" r="1.15" fill="#111"/>
<g transform="translate(215.15,425.6) rotate(-90) scale(1,0.72)"><text x="0" y="0" font-size="4.9" font-style="italic" fill="#000" stroke="#000" stroke-width="0.12">p=0.0003</text></g>
<text x="219.60" y="499.70" font-size="8.2" text-anchor="end" fill="#000" font-style="italic" transform="rotate(-45 219.60 499.70)" stroke="#000" stroke-width="0.15">CCNB2</text>
<rect x="228.40" y="447.50" width="6.80" height="44.80" fill="#000"/>
<rect x="235.20" y="491.00" width="6.00" height="1.30" fill="#fff" stroke="#231f20" stroke-width="0.6"/>
<line x1="231.80" y1="444.00" x2="231.80" y2="449.00" stroke="#888" stroke-width="0.6"/>
<line x1="230.50" y1="444.00" x2="233.10" y2="444.00" stroke="#888" stroke-width="0.6"/>
<circle cx="231.80" cy="442.30" r="1.7" fill="#fff" stroke="#666" stroke-width="0.55"/>
<circle cx="231.80" cy="457.60" r="1.7" fill="#fff"/>
<circle cx="238.20" cy="490.70" r="1.6" fill="#fff" stroke="#777" stroke-width="0.5"/>
<path d="M231.30,435.8 V434.3 H237.70 V471.0" stroke="#555" fill="none" stroke-width="0.75"/>
<circle cx="230.50" cy="429.60" r="1.15" fill="#111"/>
<circle cx="233.50" cy="429.60" r="1.15" fill="#111"/>
<circle cx="236.50" cy="429.60" r="1.15" fill="#111"/>
<g transform="translate(234.20,425.6) rotate(-90) scale(1,0.72)"><text x="0" y="0" font-size="4.9" font-style="italic" fill="#000" stroke="#000" stroke-width="0.12">p=0.0001</text></g>
<text x="235.50" y="499.70" font-size="8.2" text-anchor="end" fill="#000" font-style="italic" transform="rotate(-45 235.50 499.70)" stroke="#000" stroke-width="0.15">CDC20</text>
<rect x="246.30" y="447.50" width="6.80" height="44.80" fill="#000"/>
<rect x="253.10" y="488.60" width="6.00" height="3.70" fill="#fff" stroke="#231f20" stroke-width="0.6"/>
<line x1="249.70" y1="444.00" x2="249.70" y2="449.00" stroke="#888" stroke-width="0.6"/>
<line x1="248.40" y1="444.00" x2="251.00" y2="444.00" stroke="#888" stroke-width="0.6"/>
<circle cx="249.70" cy="442.30" r="1.7" fill="#fff" stroke="#666" stroke-width="0.55"/>
<circle cx="249.70" cy="456.00" r="1.7" fill="#fff"/>
<circle cx="256.10" cy="488.30" r="1.6" fill="#fff" stroke="#777" stroke-width="0.5"/>
<path d="M250.40,435.8 V434.3 H256.80 V471.0" stroke="#555" fill="none" stroke-width="0.75"/>
<circle cx="249.60" cy="429.60" r="1.15" fill="#111"/>
<circle cx="252.60" cy="429.60" r="1.15" fill="#111"/>
<circle cx="255.60" cy="429.60" r="1.15" fill="#111"/>
<g transform="translate(253.30,425.6) rotate(-90) scale(1,0.72)"><text x="0" y="0" font-size="4.9" font-style="italic" fill="#000" stroke="#000" stroke-width="0.12">p=0.0005</text></g>
<text x="255.80" y="499.70" font-size="8.2" text-anchor="end" fill="#000" font-style="italic" transform="rotate(-45 255.80 499.70)" stroke="#000" stroke-width="0.15">CDC45</text>
<rect x="264.00" y="447.50" width="6.80" height="44.80" fill="#000"/>
<rect x="270.80" y="488.60" width="6.00" height="3.70" fill="#fff" stroke="#231f20" stroke-width="0.6"/>
<line x1="267.40" y1="444.60" x2="267.40" y2="449.50" stroke="#888" stroke-width="0.6"/>
<line x1="266.10" y1="444.60" x2="268.70" y2="444.60" stroke="#888" stroke-width="0.6"/>
<circle cx="267.40" cy="440.90" r="1.7" fill="#fff" stroke="#666" stroke-width="0.55"/>
<circle cx="267.40" cy="453.50" r="1.7" fill="#fff"/>
<circle cx="273.80" cy="488.30" r="1.6" fill="#fff" stroke="#777" stroke-width="0.5"/>
<path d="M267.30,435.8 V434.3 H273.60 V471.0" stroke="#555" fill="none" stroke-width="0.75"/>
<circle cx="266.45" cy="429.60" r="1.15" fill="#111"/>
<circle cx="269.45" cy="429.60" r="1.15" fill="#111"/>
<circle cx="272.45" cy="429.60" r="1.15" fill="#111"/>
<g transform="translate(270.15,425.6) rotate(-90) scale(1,0.72)"><text x="0" y="0" font-size="4.9" font-style="italic" fill="#000" stroke="#000" stroke-width="0.12">p=0.0004</text></g>
<text x="272.10" y="499.70" font-size="8.2" text-anchor="end" fill="#000" font-style="italic" transform="rotate(-45 272.10 499.70)" stroke="#000" stroke-width="0.15">NUSAP1</text>
<rect x="281.10" y="447.50" width="6.80" height="44.80" fill="#000"/>
<rect x="287.90" y="480.00" width="6.00" height="12.30" fill="#fff" stroke="#231f20" stroke-width="0.6"/>
<line x1="284.50" y1="443.50" x2="284.50" y2="449.50" stroke="#888" stroke-width="0.6"/>
<line x1="283.20" y1="443.50" x2="285.80" y2="443.50" stroke="#888" stroke-width="0.6"/>
<circle cx="284.50" cy="441.10" r="1.7" fill="#fff" stroke="#666" stroke-width="0.55"/>
<circle cx="284.50" cy="456.50" r="1.7" fill="#fff"/>
<circle cx="290.90" cy="479.70" r="1.6" fill="#fff" stroke="#777" stroke-width="0.5"/>
<path d="M284.40,435.8 V434.3 H290.70 V471.0" stroke="#555" fill="none" stroke-width="0.75"/>
<circle cx="285.05" cy="429.60" r="1.15" fill="#111"/>
<circle cx="288.05" cy="429.60" r="1.15" fill="#111"/>
<g transform="translate(287.25,425.6) rotate(-90) scale(1,0.72)"><text x="0" y="0" font-size="4.9" font-style="italic" fill="#000" stroke="#000" stroke-width="0.12">p=0.0022</text></g>
<text x="288.50" y="499.70" font-size="8.2" text-anchor="end" fill="#000" font-style="italic" transform="rotate(-45 288.50 499.70)" stroke="#000" stroke-width="0.15">PCNA</text>
<rect x="299.20" y="447.50" width="6.80" height="44.80" fill="#000"/>
<rect x="306.00" y="491.00" width="6.00" height="1.30" fill="#fff" stroke="#231f20" stroke-width="0.6"/>
<circle cx="302.60" cy="446.80" r="1.7" fill="#fff" stroke="#666" stroke-width="0.55"/>
<circle cx="302.60" cy="449.50" r="1.7" fill="#fff"/>
<circle cx="309.00" cy="490.70" r="1.6" fill="#fff" stroke="#777" stroke-width="0.5"/>
<path d="M302.40,435.8 V434.3 H308.60 V471.0" stroke="#555" fill="none" stroke-width="0.75"/>
<circle cx="301.50" cy="429.60" r="1.15" fill="#111"/>
<circle cx="304.50" cy="429.60" r="1.15" fill="#111"/>
<circle cx="307.50" cy="429.60" r="1.15" fill="#111"/>
<g transform="translate(305.20,425.6) rotate(-90) scale(1,0.72)"><text x="0" y="0" font-size="4.9" font-style="italic" fill="#000" stroke="#000" stroke-width="0.12">p=0.0001</text></g>
<text x="306.30" y="499.70" font-size="8.2" text-anchor="end" fill="#000" font-style="italic" transform="rotate(-45 306.30 499.70)" stroke="#000" stroke-width="0.15">PLK1</text>
<rect x="320.00" y="447.50" width="6.80" height="44.80" fill="#000"/>
<rect x="326.80" y="487.00" width="6.00" height="5.30" fill="#fff" stroke="#231f20" stroke-width="0.6"/>
<circle cx="323.40" cy="444.80" r="1.7" fill="#fff" stroke="#666" stroke-width="0.55"/>
<circle cx="323.40" cy="452.80" r="1.7" fill="#fff"/>
<circle cx="329.80" cy="486.70" r="1.6" fill="#fff" stroke="#777" stroke-width="0.5"/>
<path d="M323.40,435.8 V434.3 H329.20 V471.0" stroke="#555" fill="none" stroke-width="0.75"/>
<circle cx="322.30" cy="429.60" r="1.15" fill="#111"/>
<circle cx="325.30" cy="429.60" r="1.15" fill="#111"/>
<circle cx="328.30" cy="429.60" r="1.15" fill="#111"/>
<g transform="translate(326.00,425.6) rotate(-90) scale(1,0.72)"><text x="0" y="0" font-size="4.9" font-style="italic" fill="#000" stroke="#000" stroke-width="0.12">p=0.0001</text></g>
<text x="326.80" y="497.20" font-size="8.2" text-anchor="end" fill="#000" font-style="italic" transform="rotate(-45 326.80 497.20)" stroke="#000" stroke-width="0.15">BRCA1</text>
<rect x="337.70" y="447.50" width="6.80" height="44.80" fill="#000"/>
<rect x="344.50" y="447.30" width="6.00" height="45.00" fill="#fff" stroke="#231f20" stroke-width="0.6"/>
<circle cx="341.10" cy="442.30" r="1.7" fill="#fff" stroke="#666" stroke-width="0.55"/>
<circle cx="341.10" cy="453.30" r="1.7" fill="#fff"/>
<line x1="347.50" y1="440.00" x2="347.50" y2="455.00" stroke="#888" stroke-width="0.6"/>
<line x1="346.20" y1="440.00" x2="348.80" y2="440.00" stroke="#888" stroke-width="0.6"/>
<rect x="345.90" y="437.60" width="3.20" height="3.20" fill="#fff" stroke="#777" stroke-width="0.5"/>
<rect x="345.90" y="447.50" width="3.20" height="3.20" fill="#fff" stroke="#777" stroke-width="0.5"/>
<rect x="345.90" y="452.60" width="3.20" height="3.20" fill="#fff" stroke="#777" stroke-width="0.5"/>
<text x="344.60" y="497.60" font-size="8.2" text-anchor="end" fill="#000" font-style="italic" transform="rotate(-45 344.60 497.60)" stroke="#000" stroke-width="0.15">DDB2</text>
<rect x="355.90" y="447.50" width="6.80" height="44.80" fill="#000"/>
<rect x="362.70" y="486.80" width="6.00" height="5.50" fill="#fff" stroke="#231f20" stroke-width="0.6"/>
<line x1="359.30" y1="443.00" x2="359.30" y2="456.00" stroke="#888" stroke-width="0.6"/>
<line x1="358.00" y1="443.00" x2="360.60" y2="443.00" stroke="#888" stroke-width="0.6"/>
<circle cx="359.30" cy="441.60" r="1.7" fill="#bbb" stroke="#666" stroke-width="0.55"/>
<circle cx="359.30" cy="460.90" r="1.7" fill="#fff"/>
<circle cx="365.70" cy="486.50" r="1.6" fill="#fff" stroke="#777" stroke-width="0.5"/>
<path d="M358.90,435.8 V434.3 H365.80 V471.0" stroke="#555" fill="none" stroke-width="0.75"/>
<circle cx="359.85" cy="429.60" r="1.15" fill="#111"/>
<circle cx="362.85" cy="429.60" r="1.15" fill="#111"/>
<g transform="translate(362.05,425.6) rotate(-90) scale(1,0.72)"><text x="0" y="0" font-size="4.9" font-style="italic" fill="#000" stroke="#000" stroke-width="0.12">p=0.0031</text></g>
<text x="363.20" y="498.30" font-size="8.2" text-anchor="end" fill="#000" font-style="italic" transform="rotate(-45 363.20 498.30)" stroke="#000" stroke-width="0.15">EZH2</text>
<rect x="374.60" y="447.50" width="6.80" height="44.80" fill="#000"/>
<rect x="381.40" y="491.00" width="6.00" height="1.30" fill="#fff" stroke="#231f20" stroke-width="0.6"/>
<circle cx="378.00" cy="445.00" r="1.7" fill="#fff" stroke="#666" stroke-width="0.55"/>
<circle cx="378.00" cy="453.60" r="1.7" fill="#fff"/>
<circle cx="384.40" cy="490.70" r="1.6" fill="#fff" stroke="#777" stroke-width="0.5"/>
<path d="M379.10,435.8 V434.3 H385.50 V471.0" stroke="#555" fill="none" stroke-width="0.75"/>
<circle cx="379.80" cy="429.60" r="1.15" fill="#111"/>
<circle cx="382.80" cy="429.60" r="1.15" fill="#111"/>
<g transform="translate(382.00,425.6) rotate(-90) scale(1,0.72)"><text x="0" y="0" font-size="4.9" font-style="italic" fill="#000" stroke="#000" stroke-width="0.12">p=0.0012</text></g>
<text x="382.20" y="499.00" font-size="8.2" text-anchor="end" fill="#000" font-style="italic" transform="rotate(-45 382.20 499.00)" stroke="#000" stroke-width="0.15">MYBL2</text>
<rect x="393.90" y="447.50" width="6.80" height="44.80" fill="#000"/>
<rect x="400.70" y="491.00" width="6.00" height="1.30" fill="#fff" stroke="#231f20" stroke-width="0.6"/>
<line x1="397.30" y1="444.50" x2="397.30" y2="449.50" stroke="#888" stroke-width="0.6"/>
<line x1="396.00" y1="444.50" x2="398.60" y2="444.50" stroke="#888" stroke-width="0.6"/>
<circle cx="397.30" cy="442.30" r="1.7" fill="#fff" stroke="#666" stroke-width="0.55"/>
<circle cx="397.30" cy="452.60" r="1.7" fill="#fff"/>
<circle cx="403.70" cy="490.70" r="1.6" fill="#fff" stroke="#777" stroke-width="0.5"/>
<path d="M396.80,435.8 V434.3 H403.40 V471.0" stroke="#555" fill="none" stroke-width="0.75"/>
<circle cx="396.10" cy="429.60" r="1.15" fill="#111"/>
<circle cx="399.10" cy="429.60" r="1.15" fill="#111"/>
<circle cx="402.10" cy="429.60" r="1.15" fill="#111"/>
<g transform="translate(399.80,425.6) rotate(-90) scale(1,0.72)"><text x="0" y="0" font-size="4.9" font-style="italic" fill="#000" stroke="#000" stroke-width="0.12">p=0.0001</text></g>
<text x="400.80" y="499.00" font-size="8.2" text-anchor="end" fill="#000" font-style="italic" transform="rotate(-45 400.80 499.00)" stroke="#000" stroke-width="0.15">TOP2A</text>
<rect x="415.90" y="482.80" width="5.90" height="8.80" fill="#000"/>
<rect x="421.80" y="422.20" width="6.60" height="69.40" fill="#fff" stroke="#231f20" stroke-width="0.6"/>
<circle cx="418.85" cy="482.60" r="1.6" fill="#fff" stroke="#666" stroke-width="0.5"/>
<circle cx="418.85" cy="484.80" r="1.3" fill="#ccc"/>
<line x1="425.10" y1="413.20" x2="425.10" y2="432.00" stroke="#555" stroke-width="0.6"/>
<line x1="423.70" y1="413.20" x2="426.50" y2="413.20" stroke="#555" stroke-width="0.6"/>
<line x1="423.70" y1="432.00" x2="426.50" y2="432.00" stroke="#555" stroke-width="0.6"/>
<rect x="423.50" y="403.70" width="3.20" height="3.20" fill="#fff" stroke="#888" stroke-width="0.5"/>
<rect x="423.50" y="425.40" width="3.20" height="3.20" fill="#fff" stroke="#888" stroke-width="0.5"/>
<rect x="423.50" y="429.40" width="3.20" height="3.20" fill="#fff" stroke="#888" stroke-width="0.5"/>
<path d="M418.60,480.0 V400.70 H425.30 V402.90" stroke="#555" fill="none" stroke-width="0.75"/>
<circle cx="419.85" cy="397.30" r="1.15" fill="#111"/>
<circle cx="422.85" cy="397.30" r="1.15" fill="#111"/>
<g transform="translate(422.60,395.20) rotate(-90) scale(1,0.72)"><text x="0" y="0" font-size="4.9" font-style="italic" fill="#000" stroke="#000" stroke-width="0.12">p=0.0023</text></g>
<text x="424.80" y="500.30" font-size="8.2" text-anchor="end" fill="#000" font-style="italic" transform="rotate(-45 424.80 500.30)" stroke="#000" stroke-width="0.15">ICAM1</text>
<rect x="433.60" y="482.80" width="5.90" height="8.80" fill="#000"/>
<rect x="439.50" y="464.00" width="6.60" height="27.60" fill="#fff" stroke="#231f20" stroke-width="0.6"/>
<circle cx="436.55" cy="482.60" r="1.6" fill="#fff" stroke="#666" stroke-width="0.5"/>
<circle cx="436.55" cy="484.80" r="1.3" fill="#ccc"/>
<line x1="442.80" y1="462.50" x2="442.80" y2="465.50" stroke="#555" stroke-width="0.6"/>
<line x1="441.40" y1="462.50" x2="444.20" y2="462.50" stroke="#555" stroke-width="0.6"/>
<line x1="441.40" y1="465.50" x2="444.20" y2="465.50" stroke="#555" stroke-width="0.6"/>
<rect x="441.20" y="461.20" width="3.20" height="3.20" fill="#fff" stroke="#888" stroke-width="0.5"/>
<rect x="441.20" y="463.70" width="3.20" height="3.20" fill="#fff" stroke="#888" stroke-width="0.5"/>
<path d="M436.80,480.0 V458.60 H444.50 V460.80" stroke="#555" fill="none" stroke-width="0.75"/>
<circle cx="437.05" cy="453.00" r="1.15" fill="#111"/>
<circle cx="440.05" cy="453.00" r="1.15" fill="#111"/>
<circle cx="443.05" cy="453.00" r="1.15" fill="#111"/>
<g transform="translate(441.60,448.60) rotate(-90) scale(1,0.72)"><text x="0" y="0" font-size="4.9" font-style="italic" fill="#000" stroke="#000" stroke-width="0.12">p=0.0023</text></g>
<text x="441.20" y="499.70" font-size="8.2" text-anchor="end" fill="#000" font-style="italic" transform="rotate(-45 441.20 499.70)" stroke="#000" stroke-width="0.15">FAS</text>
<rect x="452.00" y="482.80" width="5.90" height="8.80" fill="#000"/>
<rect x="457.90" y="438.30" width="6.60" height="53.30" fill="#fff" stroke="#231f20" stroke-width="0.6"/>
<circle cx="454.95" cy="482.60" r="1.6" fill="#fff" stroke="#666" stroke-width="0.5"/>
<circle cx="454.95" cy="484.80" r="1.3" fill="#ccc"/>
<line x1="461.20" y1="428.30" x2="461.20" y2="448.80" stroke="#555" stroke-width="0.6"/>
<line x1="459.80" y1="428.30" x2="462.60" y2="428.30" stroke="#555" stroke-width="0.6"/>
<line x1="459.80" y1="448.80" x2="462.60" y2="448.80" stroke="#555" stroke-width="0.6"/>
<rect x="459.60" y="415.80" width="3.20" height="3.20" fill="#fff" stroke="#888" stroke-width="0.5"/>
<rect x="459.60" y="447.90" width="3.20" height="3.20" fill="#fff" stroke="#888" stroke-width="0.5"/>
<path d="M454.80,480.0 V411.10 H461.40 V413.30" stroke="#555" fill="none" stroke-width="0.75"/>
<circle cx="457.50" cy="407.00" r="1.15" fill="#111"/>
<g transform="translate(461.30,403.90) rotate(-90) scale(1,0.72)"><text x="0" y="0" font-size="4.9" font-style="italic" fill="#000" stroke="#000" stroke-width="0.12">p=0.0127</text></g>
<text x="460.00" y="499.70" font-size="8.2" text-anchor="end" fill="#000" font-style="italic" transform="rotate(-45 460.00 499.70)" stroke="#000" stroke-width="0.15">GADD45</text>
<rect x="470.90" y="482.80" width="5.90" height="8.80" fill="#000"/>
<rect x="476.80" y="427.20" width="6.60" height="64.40" fill="#fff" stroke="#231f20" stroke-width="0.6"/>
<circle cx="473.85" cy="482.60" r="1.6" fill="#fff" stroke="#666" stroke-width="0.5"/>
<circle cx="473.85" cy="484.80" r="1.3" fill="#ccc"/>
<line x1="480.10" y1="424.30" x2="480.10" y2="432.00" stroke="#555" stroke-width="0.6"/>
<line x1="478.70" y1="424.30" x2="481.50" y2="424.30" stroke="#555" stroke-width="0.6"/>
<line x1="478.70" y1="432.00" x2="481.50" y2="432.00" stroke="#555" stroke-width="0.6"/>
<rect x="478.50" y="419.40" width="3.20" height="3.20" fill="#fff" stroke="#888" stroke-width="0.5"/>
<rect x="478.50" y="431.90" width="3.20" height="3.20" fill="#fff" stroke="#888" stroke-width="0.5"/>
<path d="M474.00,480.0 V411.30 H480.70 V413.50" stroke="#555" fill="none" stroke-width="0.75"/>
<circle cx="473.75" cy="406.90" r="1.15" fill="#111"/>
<circle cx="476.75" cy="406.90" r="1.15" fill="#111"/>
<circle cx="479.75" cy="406.90" r="1.15" fill="#111"/>
<g transform="translate(479.20,402.30) rotate(-90) scale(1,0.72)"><text x="0" y="0" font-size="4.9" font-style="italic" fill="#000" stroke="#000" stroke-width="0.12">p=0.0001</text></g>
<text x="479.00" y="499.70" font-size="8.2" text-anchor="end" fill="#000" font-style="italic" transform="rotate(-45 479.00 499.70)" stroke="#000" stroke-width="0.15">MDM2</text>
<rect x="490.10" y="482.80" width="5.90" height="8.80" fill="#000"/>
<rect x="496.00" y="479.00" width="6.60" height="12.60" fill="#fff" stroke="#231f20" stroke-width="0.6"/>
<circle cx="493.05" cy="482.60" r="1.6" fill="#fff" stroke="#666" stroke-width="0.5"/>
<circle cx="493.05" cy="484.80" r="1.3" fill="#ccc"/>
<line x1="499.30" y1="477.00" x2="499.30" y2="480.50" stroke="#555" stroke-width="0.6"/>
<line x1="497.90" y1="477.00" x2="500.70" y2="477.00" stroke="#555" stroke-width="0.6"/>
<line x1="497.90" y1="480.50" x2="500.70" y2="480.50" stroke="#555" stroke-width="0.6"/>
<rect x="497.70" y="475.60" width="3.20" height="3.20" fill="#fff" stroke="#888" stroke-width="0.5"/>
<path d="M492.80,480.0 V472.30 H498.40 V474.50" stroke="#555" fill="none" stroke-width="0.75"/>
<circle cx="495.00" cy="466.90" r="1.15" fill="#111"/>
<g transform="translate(497.30,463.80) rotate(-90) scale(1,0.72)"><text x="0" y="0" font-size="4.9" font-style="italic" fill="#000" stroke="#000" stroke-width="0.12">p=0.034</text></g>
<text x="499.40" y="499.70" font-size="8.2" text-anchor="end" fill="#000" font-style="italic" transform="rotate(-45 499.40 499.70)" stroke="#000" stroke-width="0.15">SERPINE1</text>
<rect x="508.50" y="482.80" width="5.90" height="8.80" fill="#000"/>
<rect x="514.40" y="441.00" width="6.60" height="50.60" fill="#fff" stroke="#231f20" stroke-width="0.6"/>
<circle cx="511.45" cy="482.60" r="1.6" fill="#fff" stroke="#666" stroke-width="0.5"/>
<circle cx="511.45" cy="484.80" r="1.3" fill="#ccc"/>
<line x1="517.70" y1="437.20" x2="517.70" y2="444.50" stroke="#555" stroke-width="0.6"/>
<line x1="516.30" y1="437.20" x2="519.10" y2="437.20" stroke="#555" stroke-width="0.6"/>
<line x1="516.30" y1="444.50" x2="519.10" y2="444.50" stroke="#555" stroke-width="0.6"/>
<rect x="516.10" y="437.90" width="3.20" height="3.20" fill="#fff" stroke="#888" stroke-width="0.5"/>
<rect x="516.10" y="440.90" width="3.20" height="3.20" fill="#fff" stroke="#888" stroke-width="0.5"/>
<path d="M511.40,480.0 V431.00 H518.30 V433.20" stroke="#555" fill="none" stroke-width="0.75"/>
<circle cx="511.25" cy="426.90" r="1.15" fill="#111"/>
<circle cx="514.25" cy="426.90" r="1.15" fill="#111"/>
<circle cx="517.25" cy="426.90" r="1.15" fill="#111"/>
<g transform="translate(516.00,423.50) rotate(-90) scale(1,0.72)"><text x="0" y="0" font-size="4.9" font-style="italic" fill="#000" stroke="#000" stroke-width="0.12">p=0.0001</text></g>
<text x="516.80" y="499.70" font-size="8.2" text-anchor="end" fill="#000" font-style="italic" transform="rotate(-45 516.80 499.70)" stroke="#000" stroke-width="0.15">CDKN1A</text>
</svg>
</body></html>
